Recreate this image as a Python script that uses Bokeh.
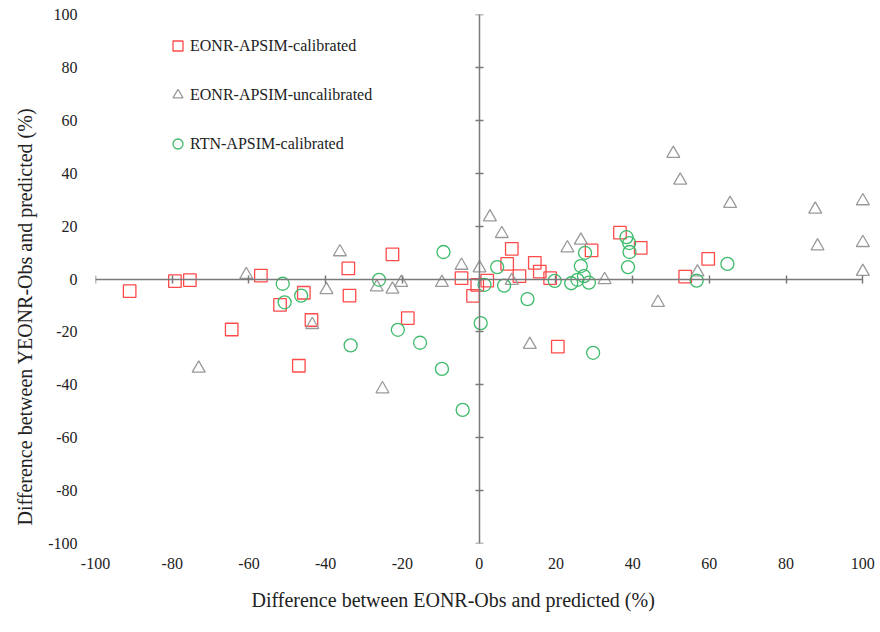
from bokeh.plotting import figure
from bokeh.models import (Range1d, LinearAxis, FixedTicker, Legend, LegendItem, Title)
from bokeh.embed import file_html
from bokeh.resources import INLINE

# ---- data ----
ticks = [-100, -80, -60, -40, -20, 0, 20, 40, 60, 80, 100]

cal_x = [-91.1, -79.3, -75.4, -56.9, -51.9, -45.7, -64.5, -47.0, -22.6, -34.1,
         -33.8, -4.6, -1.6, -0.5, -43.7, -18.6, 8.5, 29.3, 36.7, 42.1,
         7.3, 14.5, 15.8, 10.5, 18.5, 2.1, 20.5, 59.7, 53.7]
cal_y = [-4.6, -0.8, -0.4, 1.3, -9.8, -5.2, -19.1, -32.8, 9.3, 4.0,
         -6.3, 0.3, -6.4, -2.2, -15.5, -14.8, 11.4, 10.8, 17.5, 11.8,
         5.7, 6.1, 2.8, 1.1, 0.3, -0.6, -25.6, 7.6, 0.9]

unc_x = [-60.7, -73.1, -36.3, -4.6, -39.8, -26.7, -22.6, -20.3, -9.7, -43.5,
         -25.2, 2.8, 5.9, 23.0, 26.5, 0.1, 8.5, 32.7, 13.2, 50.6,
         52.4, 65.4, 87.6, 100.0, 88.2, 100.0, 100.0, 56.9, 46.6]
unc_y = [1.6, -33.8, 10.2, 5.1, -4.1, -3.1, -3.9, -1.4, -1.4, -17.3,
         -41.6, 23.4, 17.1, 11.7, 14.6, 4.1, -0.6, -0.3, -24.8, 47.4,
         37.3, 28.5, 26.3, 29.5, 12.4, 13.7, 2.8, 2.6, -8.9]

rtn_x = [-51.2, -50.7, -46.4, -9.3, -26.1, -21.2, -15.4, -33.5, -9.7, -4.3,
         0.4, 27.6, 26.5, 38.4, 39.1, 39.2, 38.8, 4.7, 1.4, 6.5,
         19.7, 24.0, 25.6, 27.3, 28.6, 12.6, 29.7, 64.7, 56.7]
rtn_y = [-1.8, -8.8, -6.3, 10.2, -0.3, -19.2, -24.1, -25.1, -34.0, -49.5,
         -16.7, 9.9, 4.9, 15.8, 13.6, 10.2, 4.5, 4.5, -2.2, -2.5,
         -0.7, -1.6, -0.3, 1.1, -1.4, -7.6, -27.9, 5.7, -0.6]

labels = ["EONR-APSIM-calibrated", "EONR-APSIM-uncalibrated", "RTN-APSIM-calibrated"]
x_title = "Difference between EONR-Obs and predicted (%)"
y_title = "Difference between YEONR-Obs and predicted (%)"

FONT = "Liberation Serif"
AXIS_COLOR = "#7a7a7a"
TEXT_COLOR = "#222222"

p = figure(width=880, height=632, output_backend="svg", toolbar_location=None,
           x_range=Range1d(-100, 102), y_range=Range1d(-100, 100),
           min_border_left=95, min_border_right=10, min_border_top=14,
           min_border_bottom=89, outline_line_color=None,
           background_fill_color="white", border_fill_color="white")
p.grid.visible = False

# outer axes: tick labels only
tick_text = {t: str(t) for t in ticks}
for ax in (p.xaxis[0], p.yaxis[0]):
    ax.ticker = FixedTicker(ticks=ticks)
    ax.major_label_overrides = tick_text
    ax.axis_line_color = None
    ax.major_tick_line_color = None
    ax.minor_tick_line_color = None
    ax.major_label_text_font = FONT
    ax.major_label_text_font_size = "16px"
    ax.major_label_text_color = TEXT_COLOR

p.xaxis[0].major_label_standoff = 8
p.yaxis[0].major_label_standoff = 12

# crossing axes through the origin
empty = {t: "" for t in ticks}
def center_axis():
    return LinearAxis(fixed_location=0, ticker=FixedTicker(ticks=ticks),
                      bounds=(-100, 100),
                      major_label_overrides=empty, axis_line_color=AXIS_COLOR,
                      axis_line_width=1.5, major_tick_line_color=AXIS_COLOR,
                      major_tick_line_width=1.5, major_tick_in=4, major_tick_out=4,
                      minor_tick_line_color=None, major_label_text_font_size="1px")
p.add_layout(center_axis(), "below")
p.add_layout(center_axis(), "left")

r1 = p.scatter(cal_x, cal_y, marker="square", size=12.5, fill_color=None,
               line_color="#ff4a4a", line_width=1.3)
r2 = p.scatter(unc_x, unc_y, marker="triangle", size=13, fill_color=None,
               line_color="#9a9a9a", line_width=1.3)
r3 = p.scatter(rtn_x, rtn_y, marker="circle", size=13, fill_color=None,
               line_color="#3dbb6a", line_width=1.3)

legend = Legend(items=[LegendItem(label=labels[0], renderers=[r1]),
                       LegendItem(label=labels[1], renderers=[r2]),
                       LegendItem(label=labels[2], renderers=[r3])],
                location=(70, 387), orientation="vertical",
                border_line_color=None, background_fill_alpha=0,
                label_text_font=FONT, label_text_font_size="16px",
                label_text_color=TEXT_COLOR,
                glyph_width=25, glyph_height=25, spacing=24,
                label_standoff=-11, padding=0, margin=0)
p.add_layout(legend, "center")

# axis titles (placed as in the reference, off-centre)
p.add_layout(Title(text=x_title, align="left", offset=156, standoff=35,
                   vertical_align="top",
                   text_font=FONT, text_font_size="20px",
                   text_font_style="normal", text_color=TEXT_COLOR), "below")
p.add_layout(Title(text=y_title, align="left", offset=18, standoff=19,
                   text_font=FONT, text_font_size="20px",
                   text_font_style="normal", text_color=TEXT_COLOR), "left")

open("out.html", "w").write(file_html(p, INLINE))
